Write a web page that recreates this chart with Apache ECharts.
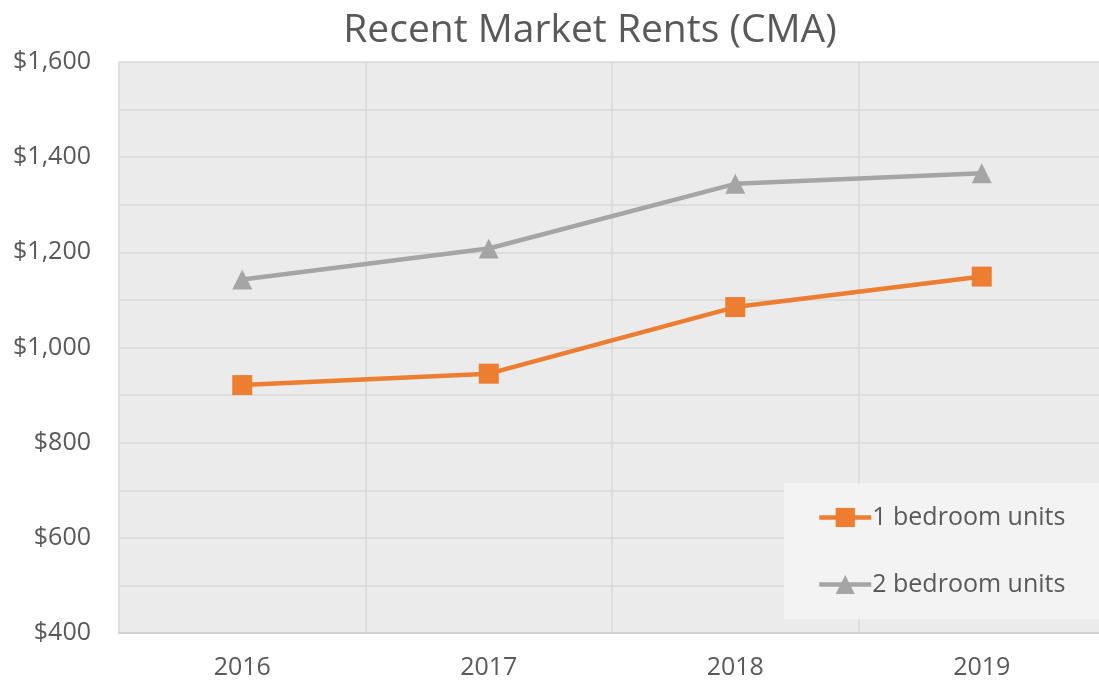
<!DOCTYPE html>
<html>
<head>
<meta charset="utf-8">
<script src="https://cdn.jsdelivr.net/npm/echarts@6/dist/echarts.min.js"></script>
<style>
html, body { margin: 0; padding: 0; background: #fff; }
#chart { width: 1099px; height: 685px; }
</style>
</head>
<body>
<div id="chart"></div>
<script>
// data
var years = ['2016', '2017', '2018', '2019'];
var oneBed = [921, 945, 1085, 1149];
var twoBed = [1143, 1208, 1344, 1366];
var seriesNames = ['1 bedroom units', '2 bedroom units'];

var txt = '#595959';
var font = '"Open Sans", "Noto Sans", sans-serif';

var chart = echarts.init(document.getElementById('chart'));
chart.setOption({
	backgroundColor: '#fff',
	animation: false,
	title: {
		text: 'Recent Market Rents (CMA)',
		left: 585,
		textAlign: 'center',
		top: 6,
		textStyle: { color: txt, fontSize: 39, fontWeight: 'normal', fontFamily: font }
	},
	grid: {
		left: 119, width: 986, top: 62, bottom: 52,
		outerBoundsMode: 'none',
		show: true,
		backgroundColor: '#EBEBEB',
		borderWidth: 0
	},
	legend: {
		orient: 'vertical',
		left: 784,
		top: 483,
		backgroundColor: 'rgba(244,244,244,0.9)',
		padding: [22, 34, 22, 33],
		itemGap: 42,
		itemWidth: 52,
		itemHeight: 24,
		lineStyle: { width: 4.5 },
		textStyle: { color: txt, fontSize: 25, fontFamily: font, padding: [0, 0, 0, -4] },
		data: seriesNames
	},
	xAxis: {
		type: 'category',
		data: years,
		boundaryGap: true,
		axisLine: { lineStyle: { color: '#D0D0D0', width: 2 } },
		axisTick: { show: false },
		splitLine: { show: true, lineStyle: { color: '#D9D9D9', width: 1.5 } },
		axisLabel: { color: txt, fontSize: 25, fontFamily: font, margin: 22 }
	},
	yAxis: {
		type: 'value',
		min: 400,
		max: 1600,
		interval: 200,
		axisLine: { show: false },
		axisTick: { show: false },
		minorTick: { show: false, splitNumber: 2 },
		minorSplitLine: { show: true, lineStyle: { color: '#D9D9D9', width: 1.5 } },
		splitLine: { show: true, lineStyle: { color: '#D9D9D9', width: 1.5 } },
		axisLabel: {
			color: txt, fontSize: 25, fontFamily: font, margin: 28,
			formatter: function (v) { return '$' + v.toLocaleString('en-US'); }
		}
	},
	series: [
		{
			name: seriesNames[0],
			type: 'line',
			data: oneBed,
			symbol: 'rect',
			symbolSize: 20,
			itemStyle: { color: '#ED7D31' },
			lineStyle: { color: '#ED7D31', width: 4.5 }
		},
		{
			name: seriesNames[1],
			type: 'line',
			data: twoBed,
			symbol: 'triangle',
			symbolSize: 20,
			itemStyle: { color: '#A5A5A5' },
			lineStyle: { color: '#A5A5A5', width: 4.5 }
		}
	]
});
</script>
</body>
</html>
